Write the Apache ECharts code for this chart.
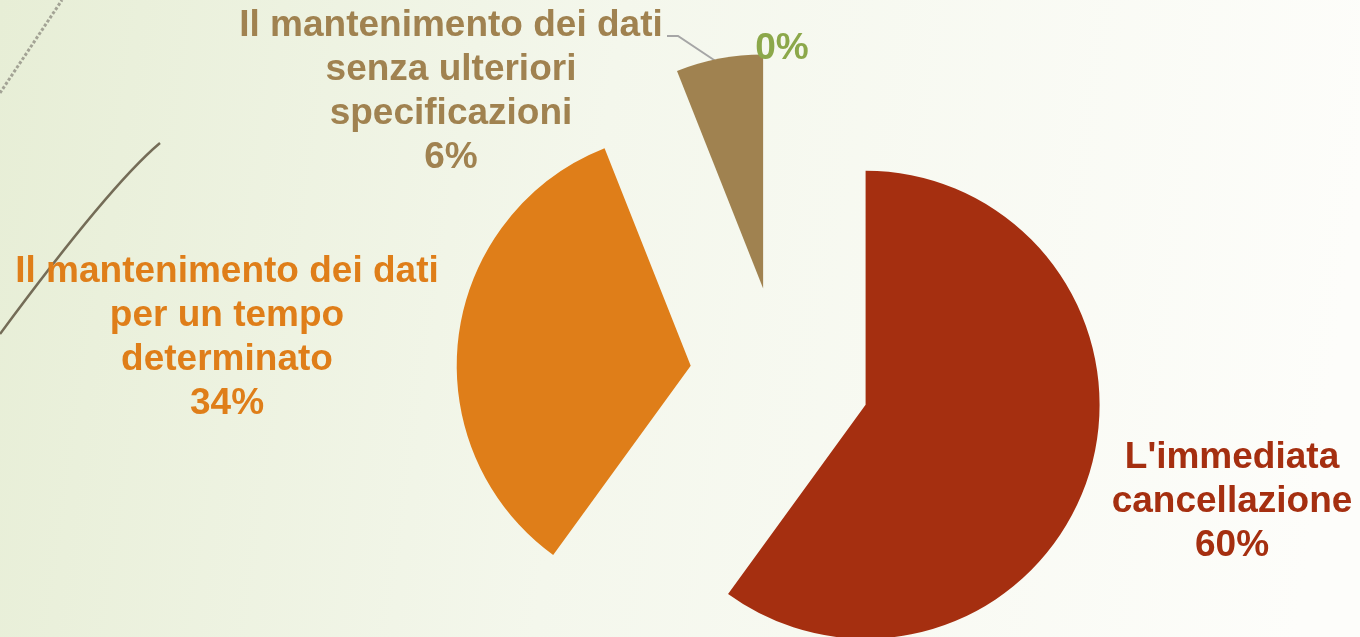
<!DOCTYPE html>
<html>
<head>
<meta charset="utf-8">
<script src="https://cdn.jsdelivr.net/npm/echarts@6/dist/echarts.min.js"></script>
<style>
    html, body { margin: 0; padding: 0; }
    #main { width: 1360px; height: 637px; }
</style>
</head>
<body>
<div id="main"></div>
<script>
// data
let categories = ["L'immediata\ncancellazione", 'Il mantenimento dei dati\nper un tempo\ndeterminato', 'Il mantenimento dei dati\nsenza ulteriori\nspecificazioni', ''];
let values = [60, 34, 6, 0];

// styles
let slice_colors = ['#A52F10', '#DF7E19', '#A08250', '#8CA84A'];
let label_pos = [[1232, 502], [227, 338], [451, 92], [782, 49]];

let total = values.reduce(function (a, b) { return a + b; });

let pie_data = [];
let label_texts = [];
for (let i = 0; i < values.length; i++) {
    pie_data.push({
        value: values[i],
        name: categories[i],
        selected: true,
        itemStyle: {color: slice_colors[i]}
    });
    let pct = Math.round(values[i] / total * 100) + '%';
    label_texts.push({
        type: 'text',
        x: label_pos[i][0],
        y: label_pos[i][1],
        silent: true,
        z: 100,
        style: {
            text: categories[i] ? categories[i] + '\n' + pct : pct,
            fill: slice_colors[i],
            font: 'bold 37px "Liberation Sans"',
            lineHeight: 44,
            align: 'center',
            verticalAlign: 'middle'
        }
    });
}

let myChart = echarts.init(document.getElementById('main'));

let option = {
    animation: false,
    backgroundColor: {
        type: 'linear', x: 0, y: 0, x2: 1, y2: 0.3,
        colorStops: [
            {offset: 0, color: '#E7EED6'},
            {offset: 0.45, color: '#F4F7EC'},
            {offset: 1, color: '#FDFDFA'}
        ]
    },
    graphic: [
        {
            type: 'line',
            shape: {x1: 0, y1: 93, x2: 62, y2: 0},
            style: {stroke: '#A3A395', lineWidth: 3, lineDash: [3, 2]},
            silent: true
        },
        {
            type: 'bezierCurve',
            shape: {x1: 160, y1: 143, cpx1: 110, cpy1: 185, x2: 0, y2: 334},
            style: {stroke: '#746C57', lineWidth: 2.5, fill: null},
            silent: true
        },
        // leader line of the 6% label
        {
            type: 'polyline',
            shape: {points: [[667, 36], [678, 36], [717, 62]]},
            style: {stroke: '#A6A6A6', lineWidth: 2, fill: null},
            silent: true
        }
    ].concat(label_texts),
    series: [
        {
            type: 'pie',
            center: [780, 377],
            radius: 234,
            startAngle: 90,
            clockwise: true,
            selectedMode: 'multiple',
            selectedOffset: 90,
            emphasis: {disabled: true},
            itemStyle: {borderWidth: 0},
            label: {show: false},
            labelLine: {show: false},
            data: pie_data
        }
    ]
};

myChart.setOption(option);
</script>
</body>
</html>
